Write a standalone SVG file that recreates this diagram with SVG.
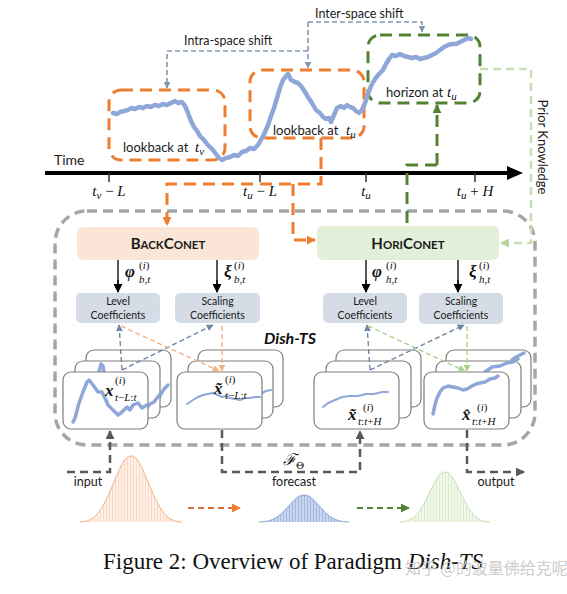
<svg xmlns="http://www.w3.org/2000/svg" width="567" height="594" viewBox="0 0 567 594">
<defs>
<style>
.sans{font-family:Lato,"Noto Sans","Liberation Sans",sans-serif;fill:#1a1a1a}
.math{font-family:"Liberation Serif","DejaVu Serif",serif;font-style:italic;fill:#111}
.bm{font-family:"Liberation Serif","DejaVu Serif",serif;font-style:italic;font-weight:bold;fill:#111}
.ob{fill:none;stroke:#ED7D31;stroke-width:3;stroke-dasharray:12 7}
.gb{fill:none;stroke:#548235;stroke-width:3;stroke-dasharray:12 7}
.shift{fill:none;stroke:#8497B0;stroke-width:1.6;stroke-dasharray:5 3}
.ts{fill:none;stroke:#8FA7D8;stroke-width:4.5;stroke-linejoin:round;stroke-linecap:round}
.tsm{fill:none;stroke:#8FA7D8;stroke-width:3.5;stroke-linejoin:round;stroke-linecap:round}
.tst{fill:none;stroke:#8FA7D8;stroke-width:2;stroke-linejoin:round;stroke-linecap:round}
.card{fill:#fff;stroke:#7F7F7F;stroke-width:1.2}
.coef{fill:#D6DCE5}
.dg{fill:none;stroke:#595959;stroke-width:2.5;stroke-dasharray:8 5}
.xb{fill:none;stroke:#6F84A6;stroke-width:1.4;stroke-dasharray:5 3}
.xo{fill:none;stroke:#F4B183;stroke-width:1.4;stroke-dasharray:5 3}
.xg{fill:none;stroke:#A9D18E;stroke-width:1.4;stroke-dasharray:5 3}
.lbl{font-size:10.5px;text-anchor:middle}
</style>
<marker id="aK" viewBox="0 0 10 10" refX="9" refY="5" markerUnits="userSpaceOnUse" markerWidth="9" markerHeight="9" orient="auto"><path d="M0,0L10,5L0,10z" fill="#000"/></marker>
<marker id="aD" viewBox="0 0 10 10" refX="9" refY="5" markerUnits="userSpaceOnUse" markerWidth="9" markerHeight="9" orient="auto"><path d="M0,0L10,5L0,10z" fill="#595959"/></marker>
<marker id="aO" viewBox="0 0 10 10" refX="9" refY="5" markerUnits="userSpaceOnUse" markerWidth="9" markerHeight="9" orient="auto"><path d="M0,0L10,5L0,10z" fill="#ED7D31"/></marker>
<marker id="aG" viewBox="0 0 10 10" refX="9" refY="5" markerUnits="userSpaceOnUse" markerWidth="9" markerHeight="9" orient="auto"><path d="M0,0L10,5L0,10z" fill="#548235"/></marker>
<marker id="aL" viewBox="0 0 10 10" refX="9" refY="5" markerUnits="userSpaceOnUse" markerWidth="9" markerHeight="9" orient="auto"><path d="M0,0L10,5L0,10z" fill="#B4D59E"/></marker>
<marker id="aS" viewBox="0 0 10 10" refX="9" refY="5" markerUnits="userSpaceOnUse" markerWidth="7" markerHeight="7" orient="auto"><path d="M0,0L10,5L0,10z" fill="#8497B0"/></marker>
<marker id="aB" viewBox="0 0 10 10" refX="9" refY="5" markerUnits="userSpaceOnUse" markerWidth="7" markerHeight="7" orient="auto"><path d="M0,0L10,5L0,10z" fill="#6F84A6"/></marker>
<marker id="aLO" viewBox="0 0 10 10" refX="9" refY="5" markerUnits="userSpaceOnUse" markerWidth="7" markerHeight="7" orient="auto"><path d="M0,0L10,5L0,10z" fill="#F4B183"/></marker>
<marker id="aLG" viewBox="0 0 10 10" refX="9" refY="5" markerUnits="userSpaceOnUse" markerWidth="7" markerHeight="7" orient="auto"><path d="M0,0L10,5L0,10z" fill="#A9D18E"/></marker>
<pattern id="hO" width="3" height="10" patternUnits="userSpaceOnUse"><rect width="3" height="10" fill="#FDF1EA"/><line x1="1.5" y1="0" x2="1.5" y2="10" stroke="#F8CBAD" stroke-width="0.7"/></pattern>
<pattern id="hB" width="3" height="10" patternUnits="userSpaceOnUse"><rect width="3" height="10" fill="#C9D6EE"/><line x1="1.5" y1="0" x2="1.5" y2="10" stroke="#8FA7D8" stroke-width="0.7"/></pattern>
<pattern id="hG" width="3" height="10" patternUnits="userSpaceOnUse"><rect width="3" height="10" fill="#F1F8EA"/><line x1="1.5" y1="0" x2="1.5" y2="10" stroke="#D3E8C3" stroke-width="0.7"/></pattern>
</defs>
<rect width="567" height="594" fill="#fff"/>

<g id="shift-labels">
<text class="sans" x="315" y="18" font-size="12.5">Inter-space shift</text>
<text class="sans" x="184" y="45" font-size="12.5">Intra-space shift</text>
</g>

<g id="lookback-tv">
<rect class="ob" x="109" y="90" width="116" height="70" rx="12"/>
<text class="sans" x="123" y="152" font-size="13">lookback at</text>
<text class="math" x="195" y="152" font-size="15">t<tspan font-size="11" dy="3">v</tspan></text>
</g>
<g id="lookback-tu">
<rect class="ob" x="250" y="70" width="114" height="68" rx="12"/>
<text class="sans" x="273" y="135" font-size="13">lookback at</text>
<text class="math" x="346" y="135" font-size="15">t<tspan font-size="11" dy="3">u</tspan></text>
</g>
<g id="horizon-tu">
<rect class="gb" x="368" y="35" width="112" height="68" rx="12"/>
<text class="sans" x="386" y="97" font-size="13">horizon at</text>
<text class="math" x="447" y="97" font-size="15">t<tspan font-size="11" dy="3">u</tspan></text>
</g>

<g id="series">
<path class="ts" d="M113,113 L117,114 L120,112 L124,111 L128,110 L131,108 L135,109 L139,107 L143,108 L147,106 L151,107 L155,105 L159,106 L163,104 L167,105 L171,103 L175,101 L178,103 L182,102 L185,106 L188,113 L191,121 L194,127 L197,131 L200,136 L204,140 L207,144 L210,147 L213,150 L216,154 L219,158 L222,160 L226,158 L230,157 L234,155 L238,156 L242,152 L246,151 L250,148 L254,149 L258,145 L262,138 L265,132 L268,125 L271,116 L274,108 L277,98 L280,88 L283,80 L286,76 L288,74 L291,80 L295,82 L298,83 L301,86 L305,92 L308,97 L312,103 L316,110 L320,113 L323,117 L326,119 L329,118 L331,122 L334,115 L337,108 L341,106 L344,108 L347,105 L350,107 L353,108 L356,111 L359,113 L362,110 L365,103 L368,94 L371,86 L375,79 L379,74 L383,70 L386,64 L389,59 L392,55 L396,56 L400,54 L404,56 L408,57 L412,58 L416,57 L420,59 L424,58 L428,57 L432,55 L436,53 L440,50 L444,47 L448,45 L452,44 L456,44 L460,42 L464,40 L468,38 L471,39"/>
</g>

<g id="time-axis">
<line x1="45" y1="173" x2="510" y2="173" stroke="#000" stroke-width="4"/>
<path d="M507,166 L523,173 L507,180z" fill="#000"/>
<path d="M109,173V182 M260,173V182 M366,173V182 M475,173V182" stroke="#333" stroke-width="1.5"/>
<text class="sans" x="54" y="165" font-size="14">Time</text>
<text class="math" x="109" y="196" font-size="15" text-anchor="middle">t<tspan font-size="11" dy="3">v</tspan><tspan dy="-3" font-style="normal"> − </tspan>L</text>
<text class="math" x="260" y="196" font-size="15" text-anchor="middle">t<tspan font-size="11" dy="3">u</tspan><tspan dy="-3" font-style="normal"> − </tspan>L</text>
<text class="math" x="366" y="196" font-size="15" text-anchor="middle">t<tspan font-size="11" dy="3">u</tspan></text>
<text class="math" x="475" y="196" font-size="15" text-anchor="middle">t<tspan font-size="11" dy="3">u</tspan><tspan dy="-3" font-style="normal"> + </tspan>H</text>
</g>

<g id="prior-knowledge-label">
<text class="sans" transform="translate(538,147) rotate(90)" text-anchor="middle" font-size="13">Prior Knowledge</text>
</g>

<g id="dish-ts">
<rect x="55" y="211" width="480" height="234" rx="32" fill="none" stroke="#A6A6A6" stroke-width="3.5" stroke-dasharray="10 6"/>
<text x="264" y="344" font-family="Lato,'Noto Sans',sans-serif" font-weight="bold" font-style="italic" font-size="16" fill="#111">Dish-TS</text>
</g>

<g id="backconet">
<rect x="77" y="227" width="182" height="33" rx="6" fill="#FBE5D6"/>
<text class="sans" x="168" y="249" text-anchor="middle" font-weight="bold" fill="#111"><tspan font-size="15">B</tspan><tspan font-size="11.5">ACK</tspan><tspan font-size="15">C</tspan><tspan font-size="11.5">ONET</tspan></text>
</g>
<g id="horiconet">
<rect x="317" y="226" width="182" height="34" rx="6" fill="#E2F0D9"/>
<text class="sans" x="408" y="249" text-anchor="middle" font-weight="bold" fill="#111"><tspan font-size="15">H</tspan><tspan font-size="11.5">ORI</tspan><tspan font-size="15">C</tspan><tspan font-size="11.5">ONET</tspan></text>
</g>

<g id="level-b">
<rect class="coef" x="76" y="293" width="84" height="30" rx="5"/>
<text class="sans lbl" x="118" y="305">Level</text>
<text class="sans lbl" x="118" y="319">Coefficients</text>
</g>
<g id="scaling-b">
<rect class="coef" x="175" y="293" width="85" height="30" rx="5"/>
<text class="sans lbl" x="217.5" y="305">Scaling</text>
<text class="sans lbl" x="217.5" y="319">Coefficients</text>
</g>
<g id="level-h">
<rect class="coef" x="323" y="293" width="84" height="30" rx="5"/>
<text class="sans lbl" x="365" y="305">Level</text>
<text class="sans lbl" x="365" y="319">Coefficients</text>
</g>
<g id="scaling-h">
<rect class="coef" x="419" y="293" width="84" height="31" rx="5"/>
<text class="sans lbl" x="461" y="305">Scaling</text>
<text class="sans lbl" x="461" y="319">Coefficients</text>
</g>

<g id="coef-labels">
<text class="bm" x="125" y="277" font-size="17">φ</text>
<text class="math" x="139" y="269" font-size="11"><tspan font-style="normal">(</tspan>i<tspan font-style="normal">)</tspan></text>
<text class="math" x="139" y="283" font-size="11">b,t</text>
<text class="bm" x="224" y="277" font-size="17">ξ</text>
<text class="math" x="234" y="269" font-size="11"><tspan font-style="normal">(</tspan>i<tspan font-style="normal">)</tspan></text>
<text class="math" x="234" y="283" font-size="11">b,t</text>
<text class="bm" x="372" y="277" font-size="17">φ</text>
<text class="math" x="386" y="269" font-size="11"><tspan font-style="normal">(</tspan>i<tspan font-style="normal">)</tspan></text>
<text class="math" x="386" y="283" font-size="11">h,t</text>
<text class="bm" x="469" y="277" font-size="17">ξ</text>
<text class="math" x="479" y="269" font-size="11"><tspan font-style="normal">(</tspan>i<tspan font-style="normal">)</tspan></text>
<text class="math" x="479" y="283" font-size="11">h,t</text>
</g>

<g id="input-cards">
<rect class="card" x="86" y="350" width="85" height="57" rx="8"/>
<path class="tsm" d="M156,402 L160,396 L164,389 L168,385"/>
<rect class="card" x="75" y="361" width="85" height="57" rx="8"/>
<path class="tsm" d="M99,372 L101,364 L103,366 L104,372 M146,409 L150,404 L154,402 L157,398 L160,394"/>
<rect class="card" x="63" y="372" width="85" height="57" rx="8"/>
<path class="tsm" d="M73,422 L75,418 L79,403 L83,392 L87,382 L89,380 L93,385 L98,392 L102,392 L105,398 L108,405 L113,410 L118,415 L122,412 L127,407 L130,410 L133,405 L138,403 L142,408 L147,405"/>
<text class="bm" x="105" y="396" font-size="17">x</text>
<text class="math" x="115" y="384" font-size="11"><tspan font-style="normal">(</tspan>i<tspan font-style="normal">)</tspan></text>
<text class="math" x="115" y="401" font-size="11">t<tspan font-style="normal">−</tspan>L<tspan font-style="normal">:</tspan>t</text>
</g>
<g id="norm-lookback-cards">
<rect class="card" x="198" y="350" width="85" height="57" rx="8"/>
<rect class="card" x="188" y="361" width="85" height="57" rx="8"/>
<path class="tst" d="M262,393 L266,391 L271,390"/>
<rect class="card" x="177" y="372" width="85" height="57" rx="8"/>
<path class="tst" d="M187,404 L193,400 L198,397 L203,395 L208,394 L213,393 L218,395 L222,397 L226,396 L230,398 L235,399 L240,400 L245,398 L250,398 L255,397 L260,397"/>
<text class="bm" x="214" y="394" font-size="17">x̃</text>
<text class="math" x="225" y="383" font-size="11"><tspan font-style="normal">(</tspan>i<tspan font-style="normal">)</tspan></text>
<text class="math" x="225" y="399" font-size="11">t<tspan font-style="normal">−</tspan>L<tspan font-style="normal">:</tspan>t</text>
</g>
<g id="norm-horizon-cards">
<rect class="card" x="336" y="350" width="85" height="57" rx="8"/>
<rect class="card" x="326" y="361" width="85" height="57" rx="8"/>
<rect class="card" x="314" y="372" width="85" height="57" rx="8"/>
<path class="tst" d="M323,407 L328,403 L335,400 L342,397 L350,396 L358,396 L366,394 L374,394 L382,392 L388,392"/>
<text class="bm" x="348" y="420" font-size="17">x̃</text>
<text class="math" x="363" y="411" font-size="11"><tspan font-style="normal">(</tspan>i<tspan font-style="normal">)</tspan></text>
<text class="math" x="358" y="425" font-size="11">t<tspan font-style="normal">:</tspan>t<tspan font-style="normal">+</tspan>H</text>
</g>
<g id="forecast-cards">
<rect class="card" x="446" y="350" width="85" height="57" rx="8"/>
<path class="tsm" d="M512,360 L516,357 L520,355 L524,353"/>
<rect class="card" x="436" y="361" width="85" height="57" rx="8"/>
<path class="tsm" d="M485,372 L492,367 L500,366 L507,363 L513,362 L518,359"/>
<rect class="card" x="424" y="372" width="85" height="57" rx="8"/>
<path class="tsm" d="M433,414 L435,405 L437,398 L440,392 L443,388 L448,386 L453,387 L458,388 L463,390 L467,389 L472,386 L476,384 L480,383 L485,382 L490,379 L495,378 L498,376"/>
<text class="bm" x="462" y="420" font-size="17">x̂</text>
<text class="math" x="477" y="411" font-size="11"><tspan font-style="normal">(</tspan>i<tspan font-style="normal">)</tspan></text>
<text class="math" x="472" y="425" font-size="11">t<tspan font-style="normal">:</tspan>t<tspan font-style="normal">+</tspan>H</text>
</g>

<g id="dist-input">
<path d="M80,522 C97,522 103.8,506 114,482 C120,468 124.2,456 131,456 C137.8,456 142,468 148,482 C158.2,506 165,522 182,522Z" fill="url(#hO)"/>
<path d="M80,522 C97,522 103.8,506 114,482 C120,468 124.2,456 131,456 C137.8,456 142,468 148,482 C158.2,506 165,522 182,522" fill="none" stroke="#F4B183" stroke-width="1"/>
</g>
<g id="dist-forecast">
<path d="M259,522 C274,522 280,515.5 289,505.6 C294.3,499.9 298,495 304,495 C310,495 313.8,499.9 319,505.6 C328,515.5 334,522 349,522Z" fill="url(#hB)"/>
<path d="M259,522 C274,522 280,515.5 289,505.6 C294.3,499.9 298,495 304,495 C310,495 313.8,499.9 319,505.6 C328,515.5 334,522 349,522" fill="none" stroke="#8FA7D8" stroke-width="1"/>
</g>
<g id="dist-output">
<path d="M400,522 C415,522 421,509.9 430,491.7 C435.3,481.1 439,472 445,472 C451,472 454.8,481.1 460,491.7 C469,509.9 475,522 490,522Z" fill="url(#hG)"/>
<path d="M400,522 C415,522 421,509.9 430,491.7 C435.3,481.1 439,472 445,472 C451,472 454.8,481.1 460,491.7 C469,509.9 475,522 490,522" fill="none" stroke="#C5E0B4" stroke-width="1"/>
</g>

<g id="flow-labels">
<text class="sans" x="88" y="486" font-size="12.5" text-anchor="middle">input</text>
<text class="sans" x="294" y="486" font-size="12.5" text-anchor="middle">forecast</text>
<text class="sans" x="496" y="486" font-size="12.5" text-anchor="middle">output</text>
<text x="283" y="465" font-family="'DejaVu Serif',serif" font-style="italic" font-size="16" fill="#111">ℱ<tspan font-style="normal" font-size="10" dy="4">Θ</tspan></text>
</g>

<g id="connectors">
<path class="shift" d="M308,22 H422 V32" marker-end="url(#aS)"/>
<path class="shift" d="M308,22 V68" marker-end="url(#aS)"/>
<path class="shift" d="M308,51 H167 V88" marker-end="url(#aS)"/>
<path class="ob" d="M321,138 V184 H167 V225" marker-end="url(#aO)"/>
<path class="ob" d="M293,184 V240 H315" marker-end="url(#aO)"/>
<path class="gb" d="M437,165 V105" marker-end="url(#aG)"/>
<path class="gb" d="M437,165 H407 V226"/>
<path d="M480,69 H531 V243 H501" fill="none" stroke="#C5E0B4" stroke-width="2.5" stroke-dasharray="8 5" marker-end="url(#aL)"/>
<path d="M118,260 V292 M217,260 V292 M366,260 V292 M458,260 V292" stroke="#000" stroke-width="1.3" fill="none"/>
<path d="M118,280 V292" stroke="#000" stroke-width="1.3" fill="none" marker-end="url(#aK)"/>
<path d="M217,280 V292" stroke="#000" stroke-width="1.3" fill="none" marker-end="url(#aK)"/>
<path d="M366,280 V292" stroke="#000" stroke-width="1.3" fill="none" marker-end="url(#aK)"/>
<path d="M458,280 V292" stroke="#000" stroke-width="1.3" fill="none" marker-end="url(#aK)"/>
<path class="xb" d="M122,370 L119,325" marker-end="url(#aB)"/>
<path class="xb" d="M122,370 L213,325" marker-end="url(#aB)"/>
<path class="xo" d="M121,326 L219,371" marker-end="url(#aLO)"/>
<path class="xo" d="M222,326 V371" marker-end="url(#aLO)"/>
<path class="xb" d="M370,370 L367,325" marker-end="url(#aB)"/>
<path class="xb" d="M370,370 L464,325" marker-end="url(#aB)"/>
<path class="xg" d="M368,326 L465,371" marker-end="url(#aLG)"/>
<path class="xg" d="M467,326 V371" marker-end="url(#aLG)"/>
<path class="dg" d="M67,472 H110 V431" marker-end="url(#aD)"/>
<path class="dg" d="M222,430 V472 H360 V431" marker-end="url(#aD)"/>
<path class="dg" d="M467,430 V472 H524" marker-end="url(#aD)"/>
<path d="M188,508 H240" fill="none" stroke="#D9733A" stroke-width="2" stroke-dasharray="6 4" marker-end="url(#aO)"/>
<path d="M357,508 H409" fill="none" stroke="#548235" stroke-width="2" stroke-dasharray="6 4" marker-end="url(#aG)"/>
</g>

<g id="caption">
<text x="103" y="569" font-family="'Liberation Serif',serif" font-size="23" fill="#111">Figure 2: Overview of Paradigm <tspan font-style="italic">Dish-TS</tspan></text>
<text x="405" y="574" font-family="'Noto Sans CJK SC',sans-serif" font-size="16" fill="#C8C8C8" opacity="0.9">知乎 @的波量佛给克呢</text>
</g>
</svg>
